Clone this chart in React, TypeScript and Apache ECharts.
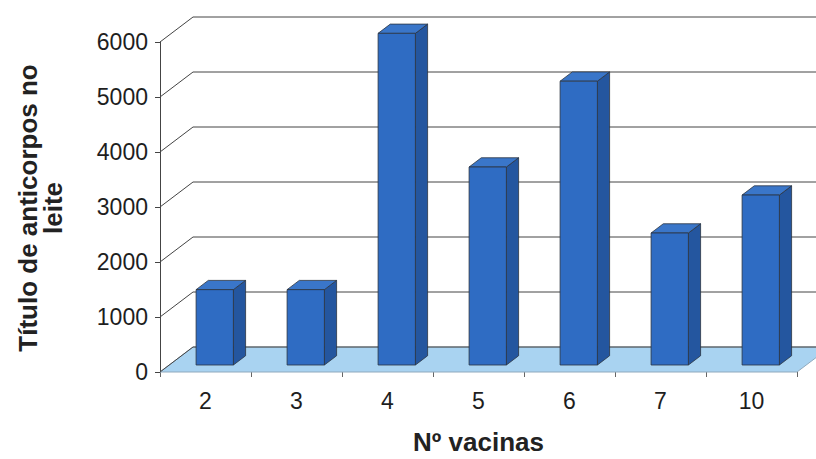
import React, { useEffect, useRef } from "react";
import * as echarts from "echarts";

const categories = ["2", "3", "4", "5", "6", "7", "10"];
const values = [1370, 1370, 6030, 3600, 5160, 2400, 3090];
const yTicks = [0, 1000, 2000, 3000, 4000, 5000, 6000];
const xTitle = "Nº vacinas";
const yTitle = "Título de anticorpos no\nleite";

const DEPTH_X = 33;
const DEPTH_Y = -25;
const BAR_FRONT = 0.28;
const BAR_DEPTH = 0.37;
const BAR_WIDTH = 0.41;
const FONT = "'Liberation Sans', Arial, sans-serif";

export default function App() {
  const ref = useRef<HTMLDivElement>(null);
  useEffect(() => {
    if (!ref.current) return;
    const chart = echarts.init(ref.current, null, { renderer: "svg" });
    chart.setOption({
      animation: false,
      backgroundColor: "#ffffff",
      grid: { left: 160, right: 19, top: 42, bottom: 87, outerBoundsMode: "none", containLabel: false },
      xAxis: {
        type: "category",
        data: categories,
        axisLine: { show: false },
        axisTick: { show: true, length: 5, lineStyle: { color: "#666" } },
        axisLabel: { fontSize: 23, color: "#1e1e1e", margin: 17, fontFamily: FONT },
        name: xTitle,
        nameLocation: "middle",
        nameGap: 57,
        nameTextStyle: { fontSize: 26, fontWeight: "bold", color: "#222", fontFamily: FONT },
        splitLine: { show: false },
      },
      yAxis: {
        type: "value",
        min: 0,
        max: 6000,
        interval: 1000,
        axisLine: { show: true, lineStyle: { color: "#444", width: 1 } },
        axisTick: { show: true, length: 5, lineStyle: { color: "#444" } },
        axisLabel: {
          fontSize: 23,
          color: "#1e1e1e",
          margin: 12,
          fontFamily: FONT,
          formatter: (v: number) => String(v),
        },
        splitLine: { show: false },
      },
      graphic: [
        {
          type: "text",
          x: 40,
          y: 208,
          rotation: Math.PI / 2,
          style: {
            text: yTitle,
            font: "bold 26px " + FONT,
            fill: "#222",
            textAlign: "center",
            textVerticalAlign: "middle",
            lineHeight: 25,
          },
        },
      ],
      series: [
        {
          type: "custom",
          z: 1,
          silent: true,
          clip: false,
          data: [[0, 0]],
          encode: { x: 0, y: 1 },
          renderItem: (params: any, api: any) => {
            const cs = params.coordSys;
            const x0 = cs.x;
            const x1 = cs.x + cs.width;
            const yb = api.coord([0, 0])[1];
            return {
              type: "polygon",
              shape: {
                points: [
                  [x0, yb],
                  [x1, yb],
                  [x1 + DEPTH_X, yb + DEPTH_Y],
                  [x0 + DEPTH_X, yb + DEPTH_Y],
                ],
              },
              style: { fill: "#a9d3f1", stroke: "#8fa9bd", lineWidth: 1 },
            };
          },
        },
        {
          type: "custom",
          z: 2,
          silent: true,
          clip: false,
          data: yTicks.map((v) => [0, v]),
          encode: { x: 0, y: 1 },
          renderItem: (params: any, api: any) => {
            const cs = params.coordSys;
            const x0 = cs.x;
            const x1 = cs.x + cs.width;
            const y = api.coord([0, api.value(1)])[1];
            const ls = { stroke: "#444", lineWidth: 1 };
            return {
              type: "group",
              children: [
                {
                  type: "line",
                  shape: { x1: x0, y1: y, x2: x0 + DEPTH_X, y2: y + DEPTH_Y },
                  style: ls,
                },
                {
                  type: "line",
                  shape: { x1: x0 + DEPTH_X, y1: y + DEPTH_Y, x2: x1 + DEPTH_X, y2: y + DEPTH_Y },
                  style: ls,
                },
              ],
            };
          },
        },
        {
          type: "custom",
          z: 3,
          silent: true,
          clip: false,
          data: values.map((v, i) => [i, v]),
          encode: { x: 0, y: 1 },
          renderItem: (params: any, api: any) => {
            const i = api.value(0);
            const v = api.value(1);
            const base = api.coord([i, 0]);
            const top = api.coord([i, v]);
            const w = api.size([1, 0])[0] * BAR_WIDTH;
            const ox = DEPTH_X * BAR_FRONT;
            const oy = DEPTH_Y * BAR_FRONT;
            const dx = DEPTH_X * BAR_DEPTH;
            const dy = DEPTH_Y * BAR_DEPTH;
            const xl = base[0] + ox - w / 2;
            const xr = base[0] + ox + w / 2;
            const yt = top[1] + oy;
            const yb = base[1] + oy;
            const edge = { stroke: "#2b3340", lineWidth: 0.8 };
            return {
              type: "group",
              children: [
                {
                  type: "polygon",
                  shape: { points: [[xr, yt], [xr + dx, yt + dy], [xr + dx, yb + dy], [xr, yb]] },
                  style: { fill: "#24569f", ...edge },
                },
                {
                  type: "polygon",
                  shape: { points: [[xl, yt], [xl + dx, yt + dy], [xr + dx, yt + dy], [xr, yt]] },
                  style: { fill: "#3a76c9", ...edge },
                },
                {
                  type: "rect",
                  shape: { x: xl, y: yt, width: w, height: yb - yt },
                  style: { fill: "#2f6cc3", ...edge },
                },
              ],
            };
          },
        },
      ],
    });
    return () => chart.dispose();
  }, []);
  return (
    <div
      ref={ref}
      style={{ position: "fixed", left: 0, top: 0, width: 816, height: 459 }}
    />
  );
}
